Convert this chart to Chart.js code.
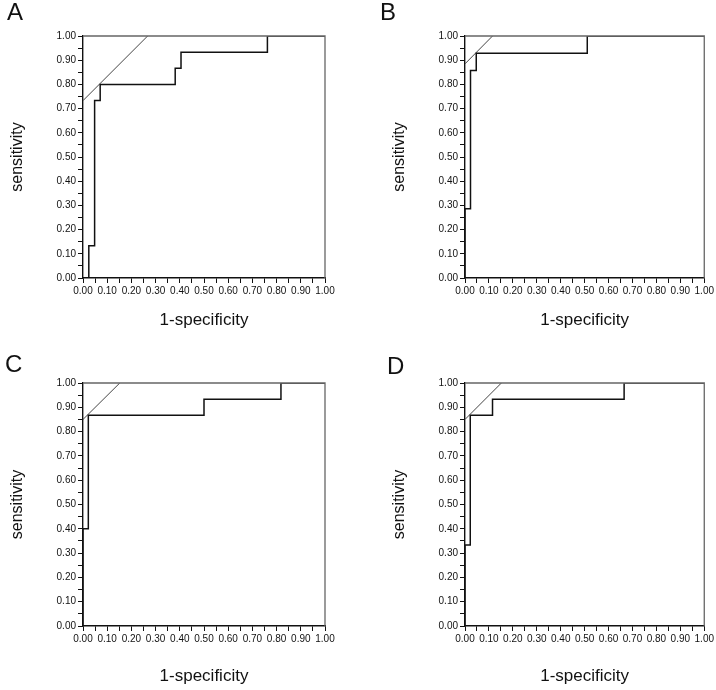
<!DOCTYPE html>
<html>
<head>
<meta charset="utf-8">
<script src="https://cdn.jsdelivr.net/npm/chart.js@4/dist/chart.umd.min.js"></script>
<style>
  html, body { margin: 0; padding: 0; background: #fff; }
  #wrap { position: relative; width: 716px; height: 690px; overflow: hidden; }
  .cell { position: absolute; width: 358px; height: 345px; }
  .tag { position: absolute; font: 24px "Liberation Sans", Arial, sans-serif; color: #111; line-height: 24px; }
</style>
</head>
<body>
<div id="wrap">
  <div class="cell" style="left:0;top:0"><canvas id="chartA" width="358" height="345"></canvas></div>
  <div class="cell" style="left:358px;top:0"><canvas id="chartB" width="358" height="345"></canvas></div>
  <div class="cell" style="left:0;top:345px"><canvas id="chartC" width="358" height="345"></canvas></div>
  <div class="cell" style="left:358px;top:345px"><canvas id="chartD" width="358" height="345"></canvas></div>
  <div class="tag" style="left:7px;top:0px">A</div>
  <div class="tag" style="left:380px;top:0px">B</div>
  <div class="tag" style="left:5px;top:352px">C</div>
  <div class="tag" style="left:387px;top:354px">D</div>
</div>
<script>
/*
  Data
  ---------- ---------- ----------
*/
// ROC corner points, drawn with stepped: 'before' (go right, then up)
const fprA = [0, 0.024, 0.048, 0.071, 0.381, 0.405, 0.762, 1.0];
const tprA = [0, 0.133, 0.733, 0.800, 0.867, 0.933, 1.000, 1.0];
const fprB = [0, 0, 0.023, 0.047, 0.511, 1.0];
const tprB = [0, 0.286, 0.857, 0.929, 1.000, 1.0];
const fprC = [0, 0, 0.022, 0.500, 0.818, 1.0];
const tprC = [0, 0.400, 0.867, 0.933, 1.000, 1.0];
const fprD = [0, 0, 0.022, 0.115, 0.665, 1.0];
const tprD = [0, 0.333, 0.867, 0.933, 1.000, 1.0];

// tangent (cut-off) lines
const tanXA = [0, 0.267];
const tanYA = [0.733, 1.0];
const tanXB = [0, 0.115];
const tanYB = [0.885, 1.0];
const tanXC = [0, 0.152];
const tanYC = [0.850, 1.0];
const tanXD = [0, 0.152];
const tanYD = [0.850, 1.0];

const xTitle = '1-specificity';
const yTitle = 'sensitivity';

/*
  Helpers
  ---------- ---------- ----------
*/
const FONT = '"Liberation Sans", Arial, sans-serif';

function toPoints(xs, ys) {
  return xs.map((x, i) => ({x: x, y: ys[i]}));
}

function tickLabel(value) {
  // label every 0.1, minor tick every 0.05
  return Math.round(value * 20) % 2 === 0 ? value.toFixed(2) : '';
}

const framePlugin = {
  id: 'frame',
  afterDatasetsDraw(chart) {
    const {ctx, chartArea: a} = chart;
    ctx.save();
    ctx.strokeStyle = '#666';
    ctx.lineWidth = 1.3;
    ctx.beginPath();
    ctx.moveTo(a.left, a.top);
    ctx.lineTo(a.right, a.top);
    ctx.lineTo(a.right, a.bottom);
    ctx.stroke();
    ctx.restore();
  }
};

function makePanel(id, fpr, tpr, tanX, tanY, box) {
  const ctx = document.getElementById(id).getContext('2d');
  return new Chart(ctx, {
    type: 'scatter',
    data: {
      datasets: [{
        data: toPoints(fpr, tpr),
        showLine: true,
        stepped: 'before',
        borderColor: '#111',
        borderWidth: 1.5,
        pointRadius: 0
      }, {
        data: toPoints(tanX, tanY),
        showLine: true,
        borderColor: '#444',
        borderWidth: 1,
        pointRadius: 0
      }]
    },
    options: {
      responsive: false,
      animation: false,
      layout: {
        padding: {left: box.padLeft, right: box.padRight, top: box.padTop, bottom: 0}
      },
      plugins: {
        legend: {display: false},
        tooltip: {enabled: false}
      },
      scales: {
        x: {
          type: 'linear',
          min: 0,
          max: 1,
          afterFit: (scale) => { scale.height = box.xHeight; },
          grid: {drawOnChartArea: false, tickLength: 5, color: '#111'},
          border: {color: '#111', width: 1.4},
          ticks: {
            stepSize: 0.05,
            autoSkip: false,
            maxRotation: 0,
            padding: 2,
            color: '#111',
            font: {family: FONT, size: 10},
            callback: tickLabel
          },
          title: {
            display: true,
            text: xTitle,
            color: '#111',
            font: {family: FONT, size: 17},
            padding: {top: 0, bottom: box.xTitlePad}
          }
        },
        y: {
          type: 'linear',
          min: 0,
          max: 1,
          afterFit: (scale) => { scale.width = 83; },
          grid: {drawOnChartArea: false, tickLength: 5, color: '#111'},
          border: {color: '#111', width: 1.4},
          ticks: {
            stepSize: 0.05,
            autoSkip: false,
            padding: 2,
            color: '#111',
            font: {family: FONT, size: 10},
            callback: tickLabel
          },
          title: {
            display: true,
            text: yTitle,
            color: '#111',
            font: {family: FONT, size: 16},
            padding: {top: 8, bottom: 0}
          }
        }
      }
    },
    plugins: [framePlugin]
  });
}

/*
  Init
  ---------- ---------- ----------
*/
makePanel('chartA', fprA, tprA, tanXA, tanYA, {padLeft: 0, padRight: 33, padTop: 36, xHeight: 67, xTitlePad: 14});
makePanel('chartB', fprB, tprB, tanXB, tanYB, {padLeft: 24, padRight: 8, padTop: 36, xHeight: 67, xTitlePad: 14});
makePanel('chartC', fprC, tprC, tanXC, tanYC, {padLeft: 0, padRight: 33, padTop: 38, xHeight: 64, xTitlePad: 3});
makePanel('chartD', fprD, tprD, tanXD, tanYD, {padLeft: 24, padRight: 9, padTop: 38, xHeight: 64, xTitlePad: 3});
</script>
</body>
</html>
